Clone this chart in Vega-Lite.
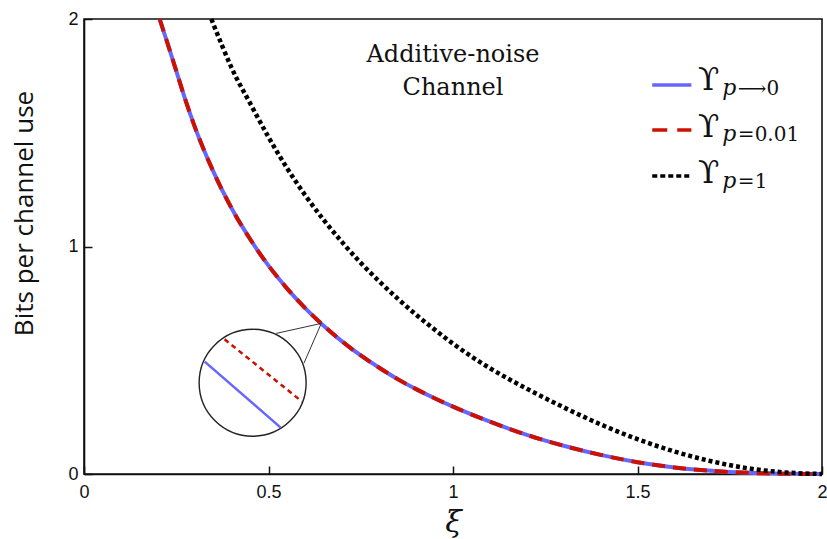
{
  "$schema": "https://vega.github.io/schema/vega-lite/v6.json",
  "autosize": {"type": "none"},
  "padding": {"left": 84, "top": 19, "right": 5, "bottom": 65},
  "width": 738,
  "height": 455,
  "background": "white",
  "config": {
    "view": {"stroke": "#111", "strokeWidth": 1.6},
    "axis": {
      "domainColor": "#111", "domainWidth": 1.6, "tickColor": "#111", "tickWidth": 1.5,
      "tickSize": -8, "grid": false, "labelFont": "Liberation Sans", "labelFontSize": 18,
      "labelColor": "#111", "labelExpr": "'' + datum.value", "labelFlush": false, "labelOverlap": false
    }
  },
  "datasets": {
    "curves": [
      {"series": "p0", "xi": 0.205, "y": 2.0},
      {"series": "p0", "xi": 0.225, "y": 1.9},
      {"series": "p0", "xi": 0.25, "y": 1.772},
      {"series": "p0", "xi": 0.275, "y": 1.643},
      {"series": "p0", "xi": 0.3, "y": 1.527},
      {"series": "p0", "xi": 0.35, "y": 1.331},
      {"series": "p0", "xi": 0.4, "y": 1.168},
      {"series": "p0", "xi": 0.45, "y": 1.033},
      {"series": "p0", "xi": 0.5, "y": 0.916},
      {"series": "p0", "xi": 0.55, "y": 0.816},
      {"series": "p0", "xi": 0.6, "y": 0.728},
      {"series": "p0", "xi": 0.65, "y": 0.651},
      {"series": "p0", "xi": 0.7, "y": 0.582},
      {"series": "p0", "xi": 0.75, "y": 0.521},
      {"series": "p0", "xi": 0.8, "y": 0.467},
      {"series": "p0", "xi": 0.85, "y": 0.417},
      {"series": "p0", "xi": 0.9, "y": 0.373},
      {"series": "p0", "xi": 0.95, "y": 0.333},
      {"series": "p0", "xi": 1.0, "y": 0.296},
      {"series": "p0", "xi": 1.1, "y": 0.23},
      {"series": "p0", "xi": 1.2, "y": 0.172},
      {"series": "p0", "xi": 1.3, "y": 0.124},
      {"series": "p0", "xi": 1.4, "y": 0.084},
      {"series": "p0", "xi": 1.5, "y": 0.052},
      {"series": "p0", "xi": 1.6, "y": 0.029},
      {"series": "p0", "xi": 1.7, "y": 0.014},
      {"series": "p0", "xi": 1.8, "y": 0.005},
      {"series": "p0", "xi": 1.9, "y": 0.001},
      {"series": "p0", "xi": 2.0, "y": 0.0},
      {"series": "p001", "xi": 0.205, "y": 2.0},
      {"series": "p001", "xi": 0.225, "y": 1.9},
      {"series": "p001", "xi": 0.25, "y": 1.772},
      {"series": "p001", "xi": 0.275, "y": 1.643},
      {"series": "p001", "xi": 0.3, "y": 1.527},
      {"series": "p001", "xi": 0.35, "y": 1.331},
      {"series": "p001", "xi": 0.4, "y": 1.168},
      {"series": "p001", "xi": 0.45, "y": 1.033},
      {"series": "p001", "xi": 0.5, "y": 0.916},
      {"series": "p001", "xi": 0.55, "y": 0.816},
      {"series": "p001", "xi": 0.6, "y": 0.728},
      {"series": "p001", "xi": 0.65, "y": 0.651},
      {"series": "p001", "xi": 0.7, "y": 0.582},
      {"series": "p001", "xi": 0.75, "y": 0.521},
      {"series": "p001", "xi": 0.8, "y": 0.467},
      {"series": "p001", "xi": 0.85, "y": 0.417},
      {"series": "p001", "xi": 0.9, "y": 0.373},
      {"series": "p001", "xi": 0.95, "y": 0.333},
      {"series": "p001", "xi": 1.0, "y": 0.296},
      {"series": "p001", "xi": 1.1, "y": 0.23},
      {"series": "p001", "xi": 1.2, "y": 0.172},
      {"series": "p001", "xi": 1.3, "y": 0.124},
      {"series": "p001", "xi": 1.4, "y": 0.084},
      {"series": "p001", "xi": 1.5, "y": 0.052},
      {"series": "p001", "xi": 1.6, "y": 0.029},
      {"series": "p001", "xi": 1.7, "y": 0.014},
      {"series": "p001", "xi": 1.8, "y": 0.005},
      {"series": "p001", "xi": 1.9, "y": 0.001},
      {"series": "p001", "xi": 2.0, "y": 0.0},
      {"series": "p1", "xi": 0.345, "y": 2.0},
      {"series": "p1", "xi": 0.375, "y": 1.88},
      {"series": "p1", "xi": 0.4, "y": 1.785},
      {"series": "p1", "xi": 0.45, "y": 1.63},
      {"series": "p1", "xi": 0.5, "y": 1.481},
      {"series": "p1", "xi": 0.55, "y": 1.345},
      {"series": "p1", "xi": 0.6, "y": 1.224},
      {"series": "p1", "xi": 0.65, "y": 1.116},
      {"series": "p1", "xi": 0.7, "y": 1.018},
      {"series": "p1", "xi": 0.75, "y": 0.928},
      {"series": "p1", "xi": 0.8, "y": 0.847},
      {"series": "p1", "xi": 0.85, "y": 0.771},
      {"series": "p1", "xi": 0.9, "y": 0.7},
      {"series": "p1", "xi": 0.95, "y": 0.635},
      {"series": "p1", "xi": 1.0, "y": 0.573},
      {"series": "p1", "xi": 1.1, "y": 0.465},
      {"series": "p1", "xi": 1.2, "y": 0.375},
      {"series": "p1", "xi": 1.3, "y": 0.293},
      {"series": "p1", "xi": 1.4, "y": 0.218},
      {"series": "p1", "xi": 1.5, "y": 0.153},
      {"series": "p1", "xi": 1.6, "y": 0.099},
      {"series": "p1", "xi": 1.7, "y": 0.056},
      {"series": "p1", "xi": 1.8, "y": 0.025},
      {"series": "p1", "xi": 1.9, "y": 0.007},
      {"series": "p1", "xi": 2.0, "y": 0.0}
    ],
    "legendLines": [
      {"series": "p0", "xi": 1.54, "xi2": 1.646, "y": 1.71},
      {"series": "p001", "xi": 1.54, "xi2": 1.646, "y": 1.512},
      {"series": "p1", "xi": 1.54, "xi2": 1.646, "y": 1.31}
    ],
    "legendText": [
      {"series": "p0", "sym": "ϒ", "sub": "p", "rest": "⟶0", "xs": 1.664, "ys": 1.688, "xp": 1.73, "xr": 1.772, "yp": 1.664},
      {"series": "p001", "sym": "ϒ", "sub": "p", "rest": "=0.01", "xs": 1.664, "ys": 1.481, "xp": 1.73, "xr": 1.772, "yp": 1.462},
      {"series": "p1", "sym": "ϒ", "sub": "p", "rest": "=1", "xs": 1.664, "ys": 1.279, "xp": 1.73, "xr": 1.772, "yp": 1.258}
    ],
    "titleText": [
      {"line": "Additive-noise", "xi": 1.0, "y": 1.811},
      {"line": "Channel", "xi": 1.0, "y": 1.666}
    ],
    "insetCircle": [{"xi": 0.457, "y": 0.401}],
    "insetSegs": [
      {"kind": "blue", "xi": 0.327, "y": 0.494, "xi2": 0.533, "y2": 0.204},
      {"kind": "red", "xi": 0.381, "y": 0.592, "xi2": 0.591, "y2": 0.318},
      {"kind": "conn", "xi": 0.643, "y": 0.662, "xi2": 0.521, "y2": 0.618},
      {"kind": "conn", "xi": 0.643, "y": 0.662, "xi2": 0.596, "y2": 0.487}
    ]
  },
  "layer": [
    {
      "data": {"name": "curves"},
      "transform": [{"filter": "datum.series === 'p0'"}],
      "mark": {"type": "line", "color": "#6666ff", "strokeWidth": 4, "interpolate": "monotone"},
      "encoding": {
        "x": {"field": "xi", "type": "quantitative", "scale": {"domain": [0, 2], "nice": false},
          "axis": {"values": [0, 0.5, 1, 1.5, 2], "labelPadding": 17, "title": "ξ",
            "titleFont": "DejaVu Serif", "titleFontStyle": "italic", "titleFontWeight": "normal",
            "titleFontSize": 30, "titlePadding": 6, "titleColor": "#111"}},
        "y": {"field": "y", "type": "quantitative", "scale": {"domain": [0, 2], "nice": false},
          "axis": {"values": [0, 1, 2], "labelPadding": 14, "title": "Bits per channel use",
            "titleFont": "Open Sans", "titleFontWeight": "normal", "titleFontSize": 26,
            "titleColor": "#111", "titleX": -60, "titleY": 194, "titleBaseline": "middle"}}
      }
    },
    {
      "data": {"name": "curves"},
      "transform": [{"filter": "datum.series === 'p001'"}],
      "mark": {"type": "line", "color": "#cc1100", "strokeWidth": 4, "strokeDash": [13, 8], "interpolate": "monotone"},
      "encoding": {
        "x": {"field": "xi", "type": "quantitative"},
        "y": {"field": "y", "type": "quantitative"}
      }
    },
    {
      "data": {"name": "curves"},
      "transform": [{"filter": "datum.series === 'p1'"}],
      "mark": {"type": "line", "color": "#000000", "strokeWidth": 4.5, "strokeDash": [4, 3], "interpolate": "monotone"},
      "encoding": {
        "x": {"field": "xi", "type": "quantitative"},
        "y": {"field": "y", "type": "quantitative"}
      }
    },
    {
      "data": {"name": "insetSegs"},
      "transform": [{"filter": "datum.kind === 'conn'"}],
      "mark": {"type": "rule", "color": "#333", "strokeWidth": 1},
      "encoding": {
        "x": {"field": "xi", "type": "quantitative"},
        "y": {"field": "y", "type": "quantitative"},
        "x2": {"field": "xi2"},
        "y2": {"field": "y2"}
      }
    },
    {
      "data": {"name": "insetCircle"},
      "mark": {"type": "point", "shape": "circle", "filled": false, "fill": "white", "fillOpacity": 1, "stroke": "#222", "strokeWidth": 1.4, "size": 11449, "opacity": 1},
      "encoding": {
        "x": {"field": "xi", "type": "quantitative"},
        "y": {"field": "y", "type": "quantitative"}
      }
    },
    {
      "data": {"name": "insetSegs"},
      "transform": [{"filter": "datum.kind === 'blue'"}],
      "mark": {"type": "rule", "color": "#6666ff", "strokeWidth": 2.5},
      "encoding": {
        "x": {"field": "xi", "type": "quantitative"},
        "y": {"field": "y", "type": "quantitative"},
        "x2": {"field": "xi2"},
        "y2": {"field": "y2"}
      }
    },
    {
      "data": {"name": "insetSegs"},
      "transform": [{"filter": "datum.kind === 'red'"}],
      "mark": {"type": "rule", "color": "#cc1100", "strokeWidth": 2.5, "strokeDash": [5, 4]},
      "encoding": {
        "x": {"field": "xi", "type": "quantitative"},
        "y": {"field": "y", "type": "quantitative"},
        "x2": {"field": "xi2"},
        "y2": {"field": "y2"}
      }
    },
    {
      "data": {"name": "legendLines"},
      "transform": [{"filter": "datum.series === 'p0'"}],
      "mark": {"type": "rule", "color": "#6666ff", "strokeWidth": 3.5},
      "encoding": {
        "x": {"field": "xi", "type": "quantitative"},
        "x2": {"field": "xi2"},
        "y": {"field": "y", "type": "quantitative"}
      }
    },
    {
      "data": {"name": "legendLines"},
      "transform": [{"filter": "datum.series === 'p001'"}],
      "mark": {"type": "rule", "color": "#cc1100", "strokeWidth": 3.5, "strokeDash": [15, 10]},
      "encoding": {
        "x": {"field": "xi", "type": "quantitative"},
        "x2": {"field": "xi2"},
        "y": {"field": "y", "type": "quantitative"}
      }
    },
    {
      "data": {"name": "legendLines"},
      "transform": [{"filter": "datum.series === 'p1'"}],
      "mark": {"type": "rule", "color": "#000000", "strokeWidth": 3.5, "strokeDash": [5, 3]},
      "encoding": {
        "x": {"field": "xi", "type": "quantitative"},
        "x2": {"field": "xi2"},
        "y": {"field": "y", "type": "quantitative"}
      }
    },
    {
      "data": {"name": "legendText"},
      "mark": {"type": "text", "font": "DejaVu Serif", "fontSize": 31, "align": "left", "baseline": "alphabetic", "color": "#111"},
      "encoding": {
        "x": {"field": "xs", "type": "quantitative"},
        "y": {"field": "ys", "type": "quantitative"},
        "text": {"field": "sym"}
      }
    },
    {
      "data": {"name": "legendText"},
      "mark": {"type": "text", "font": "DejaVu Serif", "fontStyle": "italic", "fontSize": 22, "align": "left", "baseline": "alphabetic", "color": "#111"},
      "encoding": {
        "x": {"field": "xp", "type": "quantitative"},
        "y": {"field": "yp", "type": "quantitative"},
        "text": {"field": "sub"}
      }
    },
    {
      "data": {"name": "legendText"},
      "mark": {"type": "text", "font": "DejaVu Serif", "fontSize": 20, "align": "left", "baseline": "alphabetic", "color": "#111"},
      "encoding": {
        "x": {"field": "xr", "type": "quantitative"},
        "y": {"field": "yp", "type": "quantitative"},
        "text": {"field": "rest"}
      }
    },
    {
      "data": {"name": "titleText"},
      "mark": {"type": "text", "font": "DejaVu Serif", "fontSize": 24, "align": "center", "baseline": "alphabetic", "color": "#111"},
      "encoding": {
        "x": {"field": "xi", "type": "quantitative"},
        "y": {"field": "y", "type": "quantitative"},
        "text": {"field": "line"}
      }
    }
  ]
}
